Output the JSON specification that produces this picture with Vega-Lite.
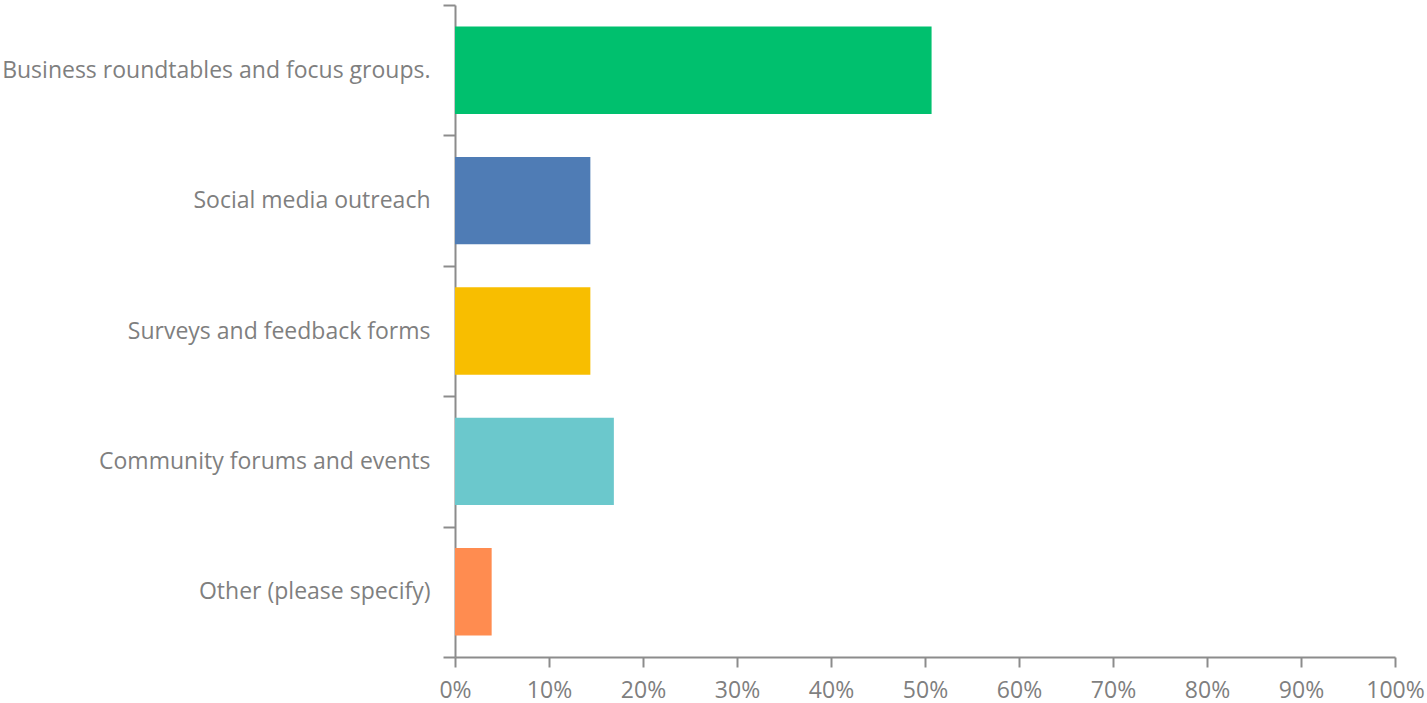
{
  "$schema": "https://vega.github.io/schema/vega-lite/v6.json",
  "width": 940,
  "height": 652,
  "autosize": {"type": "none"},
  "padding": {"left": 455, "top": 5, "right": 32, "bottom": 46},
  "background": "white",
  "config": {"view": {"stroke": null}, "font": "Open Sans"},
  "data": {
    "values": [
      {"option": "Business roundtables and focus groups.", "share": 0.507},
      {"option": "Social media outreach", "share": 0.144},
      {"option": "Surveys and feedback forms", "share": 0.144},
      {"option": "Community forums and events", "share": 0.169},
      {"option": "Other (please specify)", "share": 0.039}
    ]
  },
  "mark": {"type": "bar", "height": {"band": 0.67}},
  "encoding": {
    "y": {
      "field": "option",
      "type": "nominal",
      "sort": null,
      "title": null,
      "scale": {"paddingInner": 0, "paddingOuter": 0},
      "axis": {
        "tickBand": "extent",
        "tickSize": 12,
        "tickColor": "#8c8c8c",
        "tickWidth": 2,
        "domainColor": "#8c8c8c",
        "domainWidth": 2,
        "labelFontSize": 23,
        "labelColor": "#7f7f7f",
        "labelPadding": 13,
        "labelLimit": 500
      }
    },
    "x": {
      "field": "share",
      "type": "quantitative",
      "title": null,
      "scale": {"domain": [0, 1], "nice": false},
      "axis": {
        "format": ".0%",
        "values": [0, 0.1, 0.2, 0.3, 0.4, 0.5, 0.6, 0.7, 0.8, 0.9, 1],
        "grid": false,
        "tickSize": 10,
        "tickColor": "#8c8c8c",
        "tickWidth": 2,
        "domainColor": "#8c8c8c",
        "domainWidth": 2,
        "labelFontSize": 23,
        "labelColor": "#7f7f7f",
        "labelPadding": 12,
        "labelFlush": false
      }
    },
    "color": {
      "field": "option",
      "type": "nominal",
      "legend": null,
      "scale": {
        "domain": ["Business roundtables and focus groups.", "Social media outreach", "Surveys and feedback forms", "Community forums and events", "Other (please specify)"],
        "range": ["#00C06E", "#4F7CB5", "#F8BE00", "#6BC8CC", "#FF8C50"]
      }
    }
  }
}
